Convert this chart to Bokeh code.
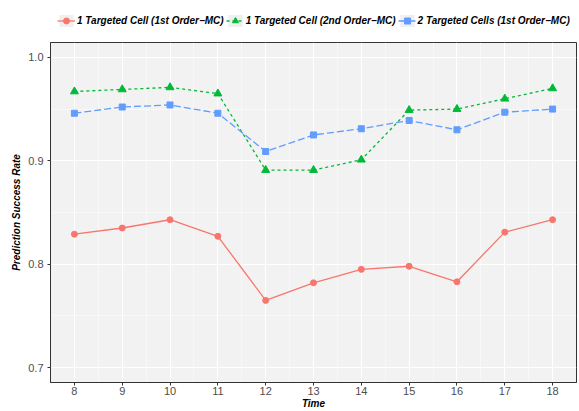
from bokeh.plotting import figure
from bokeh.embed import file_html
from bokeh.resources import INLINE
from bokeh.layouts import column
from bokeh.models import Legend, LegendItem, Range1d, FixedTicker, PrintfTickFormatter

time = [8, 9, 10, 11, 12, 13, 14, 15, 16, 17, 18]
one_cell_1st = [0.829, 0.835, 0.843, 0.827, 0.765, 0.782, 0.795, 0.798, 0.783, 0.831, 0.843]
one_cell_2nd = [0.967, 0.969, 0.971, 0.965, 0.891, 0.891, 0.901, 0.949, 0.950, 0.960, 0.970]
two_cells_1st = [0.946, 0.952, 0.954, 0.946, 0.909, 0.925, 0.931, 0.939, 0.930, 0.947, 0.950]
series_names = ["1 Targeted Cell (1st Order\u2212MC)",
                "1 Targeted Cell (2nd Order\u2212MC)",
                "2 Targeted Cells (1st Order\u2212MC)"]
y_ticks = [0.7, 0.8, 0.9, 1.0]

FONT = "Liberation Sans"
RED, GREEN, BLUE = "#F8766D", "#00BA38", "#619CFF"
STYLES = [dict(color=RED, dash="solid", marker="circle", size=6),
          dict(color=GREEN, dash="3 3", marker="triangle", size=8),
          dict(color=BLUE, dash="7 3", marker="square", size=6)]

W, LEG_H, MAIN_H = 579, 38, 373

# ---------------- main plot ----------------
p = figure(width=W, height=MAIN_H, output_backend="svg", toolbar_location=None,
           x_range=Range1d(7.5, 18.5), y_range=Range1d(0.6856, 1.0144),
           min_border_left=50, min_border_right=3, min_border_top=4, min_border_bottom=26)

p.background_fill_color = "#F2F2F2"
p.border_fill_color = "white"
p.outline_line_color = "#333333"
p.outline_line_width = 1

for ax in (p.xaxis[0], p.yaxis[0]):
    ax.axis_line_color = "#333333"
    ax.major_tick_line_color = "#333333"
    ax.major_tick_out = 3
    ax.major_tick_in = 0
    ax.minor_tick_line_color = None
    ax.major_label_text_font = FONT
    ax.major_label_text_font_size = "11px"
    ax.major_label_text_color = "#4D4D4D"
    ax.axis_label_text_font = FONT
    ax.axis_label_text_font_size = "10px"
    ax.axis_label_text_font_style = "bold italic"
    ax.axis_label_text_color = "black"

p.xaxis.major_label_standoff = 0
p.xaxis.axis_label_standoff = 0
p.yaxis.major_label_standoff = 3
p.yaxis.axis_label_standoff = 3

p.xaxis.ticker = FixedTicker(ticks=time, minor_ticks=[t + 0.5 for t in time[:-1]])
p.yaxis.ticker = FixedTicker(ticks=y_ticks, minor_ticks=[0.75, 0.85, 0.95])
p.yaxis.formatter = PrintfTickFormatter(format="%.1f")
p.xaxis.axis_label = "Time"
p.yaxis.axis_label = "Prediction Success Rate"

p.xgrid.grid_line_color = "white"
p.ygrid.grid_line_color = "white"
p.xgrid.grid_line_width = 1.1
p.ygrid.grid_line_width = 1.1
p.xgrid.minor_grid_line_color = "white"
p.ygrid.minor_grid_line_color = "white"
p.xgrid.minor_grid_line_width = 0.5
p.ygrid.minor_grid_line_width = 0.5

for vals, st in zip([one_cell_1st, one_cell_2nd, two_cells_1st], STYLES):
    p.line(time, vals, line_color=st["color"], line_width=1.3, line_dash=st["dash"])
    p.scatter(time, vals, marker=st["marker"], size=st["size"], color=st["color"])

# ---------------- legend strip ----------------
lf = figure(width=W, height=LEG_H, output_backend="svg", toolbar_location=None,
            x_range=Range1d(0, 1), y_range=Range1d(0, 1),
            x_axis_type=None, y_axis_type=None,
            min_border_left=0, min_border_right=0, min_border_top=0, min_border_bottom=0)
lf.outline_line_color = None
lf.background_fill_color = "white"
lf.xgrid.visible = False
lf.ygrid.visible = False

# stand-in glyphs placed outside the ranges; they only show in the legend keys
kb = lf.quad(left=[5], right=[6], top=[6], bottom=[5], fill_color="#EFEFEF", line_color=None)
items = []
for name, st in zip(series_names, STYLES):
    rl = lf.line([5, 6], [5, 6], line_color=st["color"], line_width=1.3, line_dash=st["dash"])
    rm = lf.scatter([5], [5], marker=st["marker"], size=st["size"], color=st["color"])
    items.append(LegendItem(label=name, renderers=[kb, rl, rm]))

legend = Legend(items=items, orientation="horizontal", location=(7, 10))
legend.label_text_font = FONT
legend.label_text_font_size = "10px"
legend.label_text_font_style = "bold italic"
legend.label_text_color = "black"
legend.glyph_width = 18
legend.glyph_height = 15
legend.label_height = 15
legend.label_standoff = 2
legend.spacing = 2
legend.padding = 0
legend.margin = 0
legend.border_line_color = None
legend.background_fill_alpha = 0
lf.add_layout(legend, "center")

layout = column(lf, p, spacing=0)
open("out.html", "w").write(file_html(layout, INLINE))
